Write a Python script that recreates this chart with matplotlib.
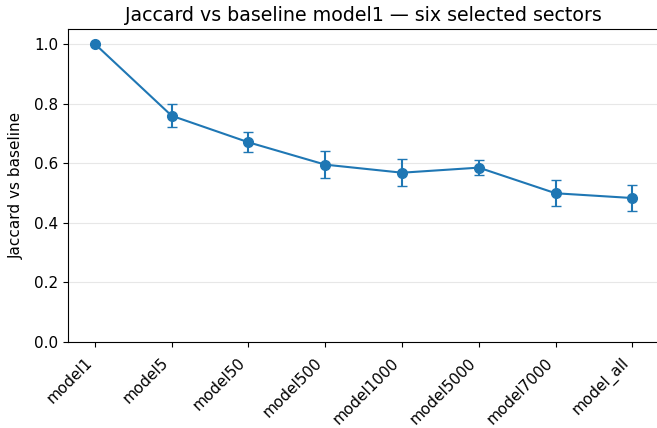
import matplotlib
matplotlib.use("Agg")
import matplotlib.pyplot as plt

models = ["model1", "model5", "model50", "model500", "model1000",
          "model5000", "model7000", "model_all"]
jaccard_mean = [1.0, 0.759, 0.670, 0.595, 0.568, 0.585, 0.499, 0.483]
jaccard_err = [0.0, 0.038, 0.034, 0.046, 0.046, 0.026, 0.044, 0.044]

fig = plt.figure(figsize=(6.57, 4.28), dpi=100)
ax = fig.add_axes([0.1035, 0.2009, 0.9, 0.7313])

x = list(range(len(models)))
ax.errorbar(x, jaccard_mean, yerr=jaccard_err, fmt="-o", color="#1f77b4",
            capsize=3.5, markersize=7, linewidth=1.5)

ax.set_ylim(0, 1.05)
ax.set_xticks(x)
ax.set_xticklabels(models, rotation=45, ha="right")
ax.tick_params(axis="both", labelsize=11)
ax.tick_params(axis="x", pad=6)
ax.set_ylabel("Jaccard vs baseline", fontsize=11, labelpad=7)
ax.set_title("Jaccard vs baseline model1 \u2014 six selected sectors", fontsize=13.7)
ax.grid(axis="y", alpha=0.3)
ax.set_axisbelow(True)

fig.savefig("out.png", dpi=100)
